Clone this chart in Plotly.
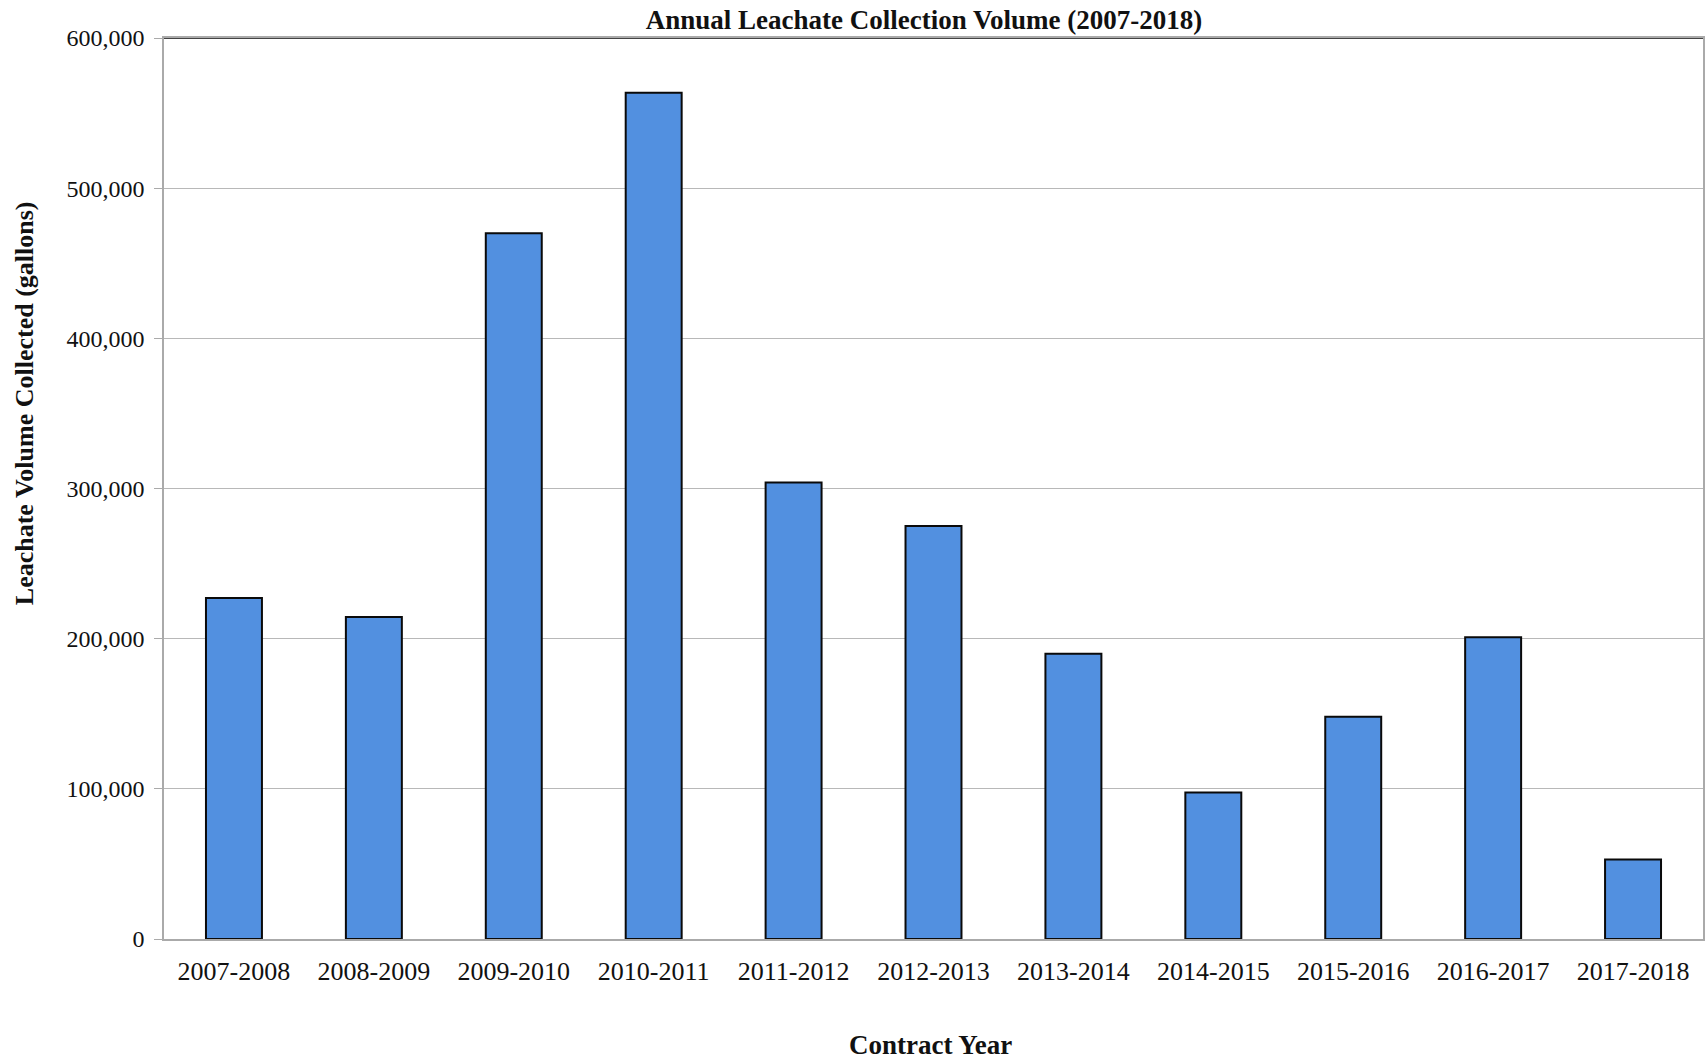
import plotly.graph_objects as go

contract_years = ["2007-2008", "2008-2009", "2009-2010", "2010-2011", "2011-2012",
                  "2012-2013", "2013-2014", "2014-2015", "2015-2016", "2016-2017", "2017-2018"]
volumes_gal = [227000, 214500, 470000, 563500, 304000, 275000, 190000, 97500, 148000, 201000, 53000]
y_ticks = [0, 100000, 200000, 300000, 400000, 500000, 600000]

fig = go.Figure()
fig.add_trace(go.Bar(
    x=contract_years, y=volumes_gal,
    marker=dict(color="#5290e0", line=dict(color="#0a0a0a", width=2)),
))

font_family = "Liberation Serif"
W, H = 1708, 1061
fig.update_layout(
    width=W, height=H,
    margin=dict(l=164, r=3, t=38, b=122),
    paper_bgcolor="white", plot_bgcolor="white",
    bargap=0.6,
    showlegend=False,
    font=dict(family=font_family, color="#111111", size=24),
    title=dict(text="<b>Annual Leachate Collection Volume (2007-2018)</b>",
               x=924 / W, xanchor="center", y=1 - 20 / H, yanchor="middle",
               font=dict(family=font_family, size=27, color="#111111")),
    xaxis=dict(
        showgrid=False, showline=True, linecolor="#aaaaaa", linewidth=1.5,
        mirror=True, ticks="", tickfont=dict(size=26), ticklabelstandoff=8,
    ),
    yaxis=dict(
        range=[0, 600000], tickvals=y_ticks, tickformat=",",
        showgrid=True, gridcolor="#b8b8b8", gridwidth=1.3,
        showline=True, linecolor="#aaaaaa", linewidth=1.5, mirror=True,
        ticks="outside", ticklen=8, tickcolor="#aaaaaa",
        tickfont=dict(size=24), ticklabelstandoff=5,
        zeroline=False,
    ),
    annotations=[
        dict(text="<b>Leachate Volume Collected (gallons)</b>", textangle=-90,
             xref="paper", yref="paper", x=(24 - 164) / (W - 167), y=(H - 122 - 403) / (H - 160),
             xanchor="center", yanchor="middle", showarrow=False,
             font=dict(family=font_family, size=26, color="#111111")),
        dict(text="<b>Contract Year</b>",
             xref="paper", yref="paper", x=(931 - 164) / (W - 167), y=-(1045 - 939) / (H - 160),
             xanchor="center", yanchor="middle", showarrow=False,
             font=dict(family=font_family, size=27, color="#111111")),
    ],
)
fig.add_shape(type="line", xref="paper", yref="y", x0=0, x1=1, y0=600000, y1=600000,
              line=dict(color="#444444", width=2))

fig.write_html("out.html")
